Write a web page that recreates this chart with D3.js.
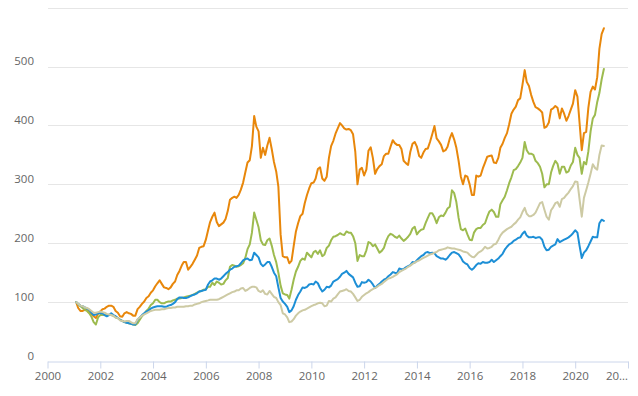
<!DOCTYPE html>
<html>
<head>
<meta charset="utf-8">
<script src="https://cdn.jsdelivr.net/npm/d3@7"></script>
<style>
  body { margin: 0; background: #fff; }
  svg { display: block; font-family: "Open Sans", sans-serif; }
</style>
</head>
<body>
<div id="chart"></div>
<script>
// values, indexed to 100 at the start, one value per month
var firstMonth = "2001-02";
var lastMonth = "2021-02";
var yTicks = [0, 100, 200, 300, 400, 500, 600];
var xTickYears = [2000, 2002, 2004, 2006, 2008, 2010, 2012, 2014, 2016, 2018, 2020, 2022];
var lastTickLabel = "20\u2026";

var orangeValues = [
  100, 90, 85, 85, 87, 87, 82, 80, 76, 73, 80, 84,
  88, 89, 92, 94, 94, 92, 85, 82, 76, 75, 81, 83,
  81, 80, 77, 77, 88, 92, 97, 101, 107, 110, 116, 120,
  127, 132, 137, 131, 125, 124, 122, 125, 131, 135, 146, 153,
  162, 168, 168, 155, 160, 165, 172, 179, 192, 194, 195, 206,
  222, 236, 245, 252, 236, 229, 232, 235, 241, 255, 274, 277,
  279, 277, 282, 291, 303, 320, 337, 341, 365, 416, 398, 390,
  345, 362, 350, 366, 379, 360, 338, 322, 296, 215, 178, 176,
  176, 166, 170, 195, 220, 234, 246, 250, 268, 282, 293, 302,
  303, 310, 326, 329, 310, 306, 313, 345, 365, 374, 386, 395,
  404, 400, 395, 393, 394, 392, 385, 355, 300, 325, 328, 315,
  325, 357, 363, 345, 318, 326, 331, 334, 348, 352, 352, 364,
  375, 370, 367, 367, 360, 340, 336, 333, 355, 369, 372, 364,
  348, 345, 354, 360, 361, 372, 385, 399, 378, 373, 367, 356,
  358, 364, 378, 387, 376, 362, 340, 313, 300, 315, 313, 300,
  282, 282, 315, 313, 315, 327, 337, 347, 348, 349, 337, 336,
  345, 362, 369, 379, 387, 402, 420, 427, 432, 443, 446, 469,
  494, 474, 467, 452, 440, 431, 429, 426, 422, 396, 398, 405,
  427, 429, 433, 430, 412, 429, 420, 408, 416, 427, 437, 460,
  449, 405, 358, 387, 389, 430, 457, 466, 461, 482, 530, 555,
  565
];

var greenValues = [
  100, 96, 93, 90, 87, 85, 81, 75, 66, 62, 74, 78,
  78, 78, 78, 78, 78, 77, 74, 73, 70, 68, 66, 65,
  64, 63, 62, 61, 64, 70, 76, 80, 85, 89, 95, 98,
  104, 104, 100, 98, 98, 100, 101, 101, 103, 104, 106, 106,
  107, 108, 109, 110, 111, 112, 114, 116, 118, 119, 121, 122,
  126, 126, 133, 129, 135, 133, 130, 131, 137, 141, 160, 163,
  162, 160, 161, 163, 166, 175, 190, 198, 218, 252, 240, 227,
  205, 198, 197, 205, 208, 196, 180, 168, 150, 128, 115, 113,
  112, 106, 121, 138, 152, 160, 170, 174, 172, 184, 180, 176,
  185, 187, 182, 188, 178, 181, 192, 196, 205, 211, 212, 214,
  217, 215, 214, 220, 218, 218, 212, 200, 170, 180, 178, 178,
  188, 202, 200, 195, 198, 191, 184, 187, 192, 204, 212, 216,
  214, 211, 209, 213, 208, 204, 207, 211, 216, 225, 228, 215,
  220, 223, 224, 234, 243, 251, 251, 244, 234, 244, 247, 246,
  252, 259, 262, 290, 285, 270, 243, 224, 222, 225, 215, 206,
  205, 218, 224, 226, 226, 231, 234, 245, 254, 257, 253, 245,
  245, 266, 273, 279, 290, 302, 312, 324, 326, 331, 337, 345,
  372, 358, 352, 352, 350, 340, 336, 330, 318, 295, 300, 300,
  320, 331, 340, 335, 318, 330, 330, 320, 322, 332, 338, 362,
  350, 345, 318, 338, 334, 356, 390, 412, 418, 440, 455, 478,
  496
];

var blueValues = [
  100, 97, 94, 93, 91, 89, 87, 82, 78, 79, 81, 81,
  81, 78, 76, 78, 81, 78, 76, 73, 70, 68, 66, 65,
  64, 63, 62, 62, 70, 74, 78, 81, 84, 86, 89, 91,
  92, 93, 93, 93, 92, 92, 94, 95, 97, 100, 105, 108,
  108, 107, 107, 108, 110, 112, 113, 115, 118, 119, 120, 121,
  130, 135, 137, 140, 140, 138, 140, 144, 148, 151, 155, 157,
  160, 161, 162, 166, 171, 173, 174, 171, 172, 184, 180, 176,
  165, 161, 164, 168, 168, 160, 150, 144, 125, 107, 101, 97,
  92, 83, 86, 93, 104, 112, 118, 125, 124, 126, 130, 131,
  130, 135, 132, 124, 118, 121, 126, 125, 128, 135, 137, 139,
  143, 148, 150, 153, 148, 145, 142, 133, 126, 127, 134, 133,
  134, 138, 135, 130, 124, 128, 131, 135, 138, 140, 144, 147,
  151, 150, 149, 157, 156, 156, 159, 161, 163, 168, 167, 171,
  175, 178, 180, 184, 185, 183, 184, 183, 178, 176, 174, 174,
  172, 175, 180, 184, 185, 183, 181, 176, 169, 166, 164, 158,
  155, 158, 163, 166, 165, 168, 167, 167, 168, 172, 168, 171,
  174, 178, 182, 189, 194, 198, 200, 204, 206, 209, 210, 216,
  220, 213, 210, 210, 211, 209, 210, 210, 206, 194, 188, 189,
  194, 196, 198, 207, 202, 204, 206, 208, 210, 213, 217, 222,
  218, 196, 175, 184, 188, 195, 203, 211, 210, 210, 234, 240,
  238
];

var beigeValues = [
  100, 97, 94, 93, 91, 90, 88, 85, 82, 82, 83, 84,
  83, 82, 80, 79, 78, 77, 74, 73, 69, 68, 67, 68,
  68, 66, 64, 64, 71, 74, 77, 79, 81, 83, 85, 86,
  87, 87, 87, 88, 88, 89, 90, 90, 91, 91, 92, 92,
  92, 92, 93, 93, 94, 94, 96, 97, 98, 100, 101, 102,
  103, 104, 104, 104, 104, 105, 107, 109, 111, 113, 115, 117,
  118, 120, 120, 123, 124, 119, 121, 124, 126, 126, 125, 119,
  117, 120, 114, 113, 119, 114, 109, 107, 100, 95, 81, 79,
  74, 66, 67, 71, 77, 81, 84, 86, 87, 89, 91, 93,
  95, 96, 98, 99, 98, 93, 94, 102, 101, 106, 108, 113,
  118, 119, 120, 122, 119, 118, 114, 108, 102, 104, 109, 112,
  115, 117, 120, 122, 124, 126, 129, 131, 134, 137, 140, 141,
  143, 145, 147, 151, 153, 155, 157, 160, 162, 165, 167, 169,
  171, 173, 175, 177, 179, 181, 182, 184, 185, 188, 189, 190,
  191, 193, 192, 191, 191, 190, 189, 188, 186, 185, 184, 180,
  177, 176, 180, 184, 186, 189, 194, 191, 192, 194, 198, 199,
  206, 213, 218, 221, 224, 226, 228, 232, 235, 240, 244, 253,
  260, 250, 246, 246, 248, 252, 260, 268, 270, 257, 245, 240,
  256, 261, 268, 270, 262, 275, 277, 282, 286, 292, 297, 305,
  304, 275, 245, 277, 290, 303, 318, 334, 328, 325, 350, 366,
  365
];

var svgWidth = 638;
var svgHeight = 396;

var svg = d3.select("#chart")
  .append("svg")
  .attr("width", svgWidth)
  .attr("height", svgHeight);

var parseMonth = d3.utcParse("%Y-%m");
var start = parseMonth(firstMonth);
var end = d3.utcMonth.offset(parseMonth(lastMonth), 1);
var dates = d3.utcMonth.range(start, end);

var xScale = d3.scaleUtc()
  .domain([new Date(Date.UTC(2000, 0, 1)), new Date(Date.UTC(2022, 0, 1))])
  .range([47.5, 628]);

var yScale = d3.scaleLinear()
  .domain([0, 600])
  .range([361, 7.7]);

// horizontal grid lines
svg.append("g")
  .selectAll("line")
  .data(yTicks.slice(1))
  .enter()
  .append("line")
  .attr("x1", 48)
  .attr("x2", 628)
  .attr("y1", d => Math.round(yScale(d)) + 0.5)
  .attr("y2", d => Math.round(yScale(d)) + 0.5)
  .attr("stroke", "#e6e6e6")
  .attr("stroke-width", 1);

// y labels (no label on the top line)
svg.append("g")
  .selectAll("text")
  .data(yTicks.slice(0, -1))
  .enter()
  .append("text")
  .attr("x", 34)
  .attr("y", d => yScale(d) - 1.5)
  .attr("text-anchor", "end")
  .attr("fill", "#666")
  .style("font-size", "11.5px")
  .text(d => d);

// x axis
var xTickDates = xTickYears.map(y => new Date(Date.UTC(y, 0, 1)));
var bottomAxis = d3.axisBottom(xScale)
  .tickValues(xTickDates)
  .tickSize(7)
  .tickSizeOuter(0)
  .tickFormat((d, i) => i === xTickDates.length - 1 ? lastTickLabel : d3.utcFormat("%Y")(d));

var xAxis = svg.append("g")
  .attr("transform", "translate(0, 361.5)")
  .call(bottomAxis);

xAxis.select(".domain").attr("stroke", "#ccd6eb");
xAxis.selectAll(".tick line").attr("stroke", "#ccd6eb");
xAxis.selectAll(".tick text")
  .attr("y", 18.5)
  .attr("dy", null)
  .attr("fill", "#666")
  .style("font-size", "11.5px")
  .style("font-family", "'Open Sans', sans-serif");
xAxis.selectAll(".tick text")
  .filter((d, i) => i === xTickDates.length - 1)
  .attr("text-anchor", "end")
  .attr("x", -0.5);

// the lines
var series = [
  { values: orangeValues, color: "#e8870b" },
  { values: greenValues, color: "#9dbb4f" },
  { values: blueValues, color: "#1d8fd6" },
  { values: beigeValues, color: "#cdcaa4" }
];

var line = d3.line()
  .defined((d, i) => dates[i] != null)
  .x((d, i) => xScale(dates[i]))
  .y(d => yScale(d));

svg.append("g")
  .selectAll("path")
  .data(series)
  .enter()
  .append("path")
  .attr("d", d => line(d.values))
  .attr("fill", "none")
  .attr("stroke", d => d.color)
  .attr("stroke-width", 2)
  .attr("stroke-linejoin", "round")
  .attr("stroke-linecap", "round");
</script>
</body>
</html>
